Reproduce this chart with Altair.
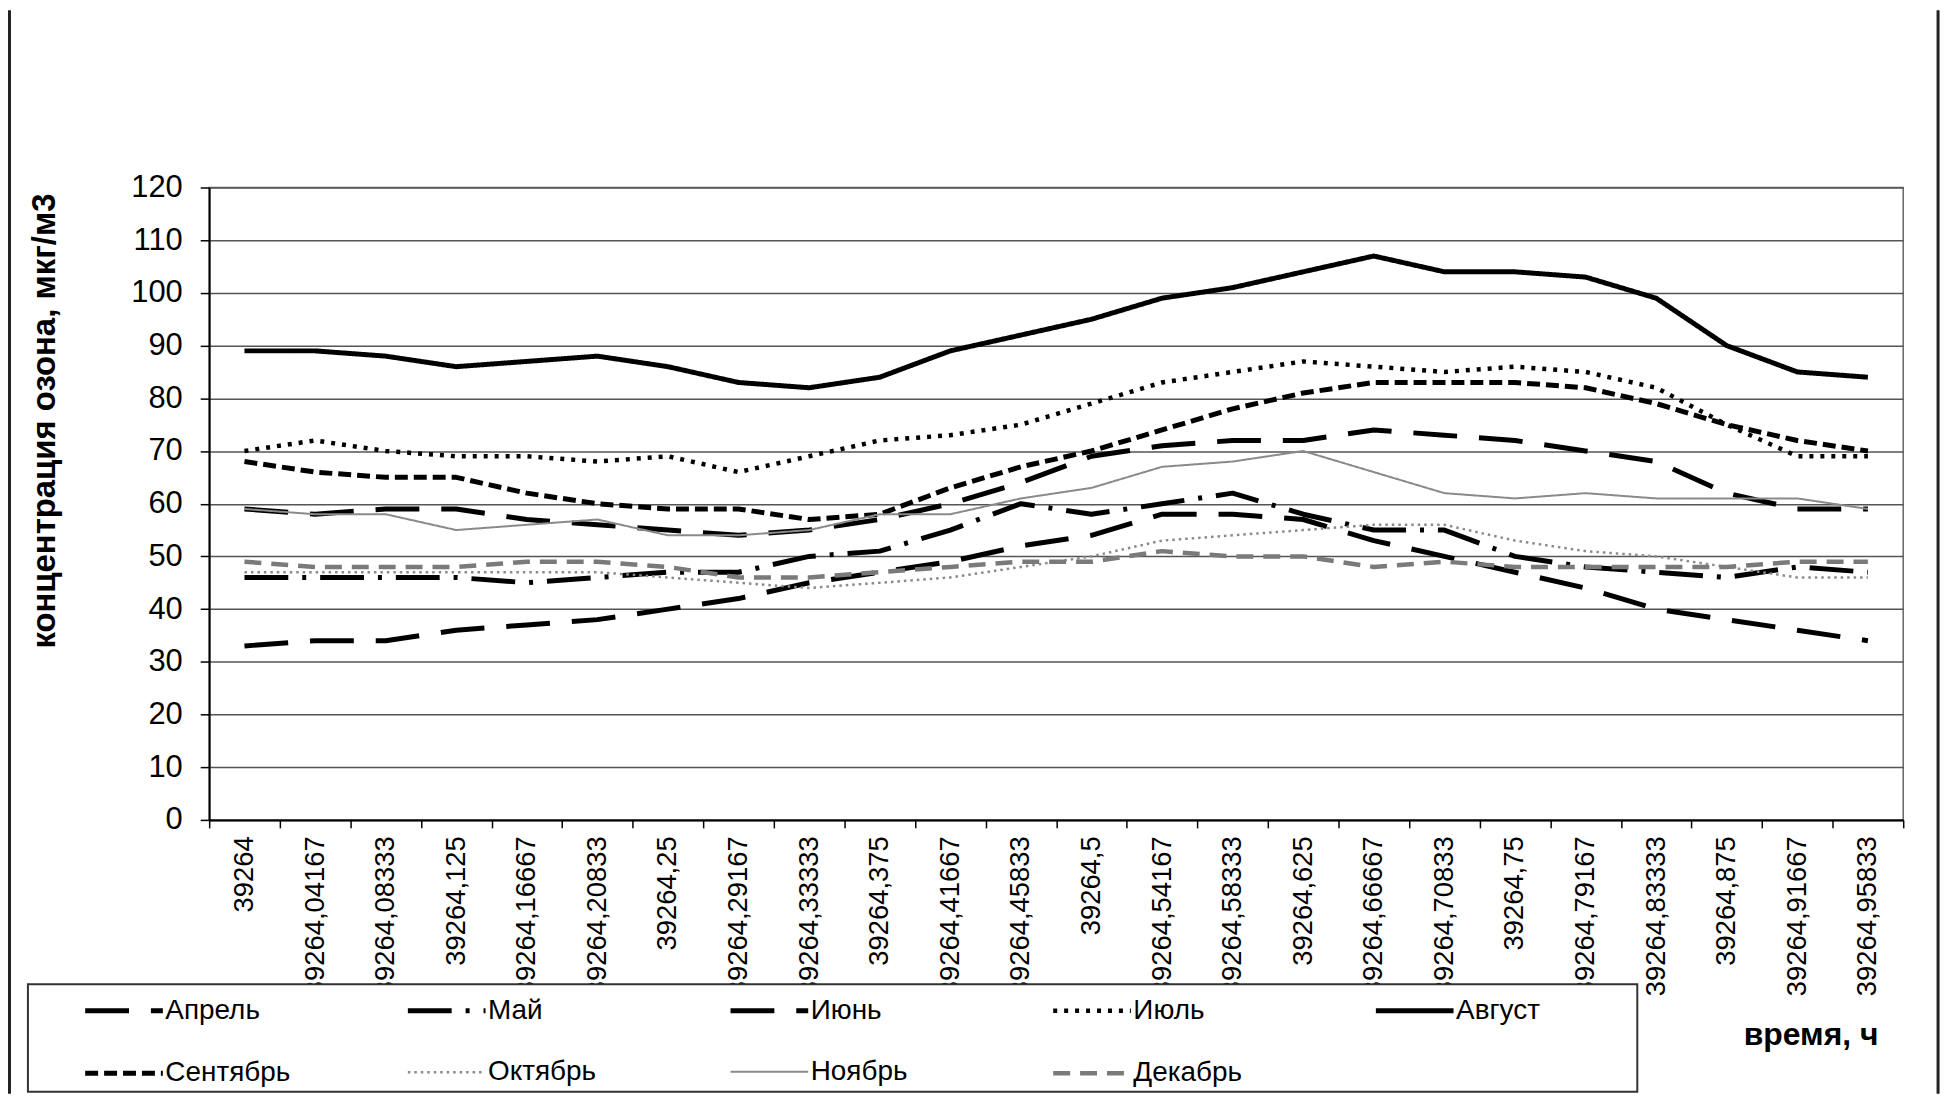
import altair as alt
import pandas as pd

labels = ["39264", "39264,04167", "39264,08333", "39264,125", "39264,16667", "39264,20833",
          "39264,25", "39264,29167", "39264,33333", "39264,375", "39264,41667", "39264,45833",
          "39264,5", "39264,54167", "39264,58333", "39264,625", "39264,66667", "39264,70833",
          "39264,75", "39264,79167", "39264,83333", "39264,875", "39264,91667", "39264,95833"]

months = ["Апрель", "Май", "Июнь", "Июль", "Август", "Сентябрь", "Октябрь", "Ноябрь", "Декабрь"]

apr = [33, 34, 34, 36, 37, 38, 40, 42, 45, 47, 49, 52, 54, 58, 58, 57, 53, 50, 47, 44, 40, 38, 36, 34]
may = [46, 46, 46, 46, 45, 46, 47, 47, 50, 51, 55, 60, 58, 60, 62, 58, 55, 55, 50, 48, 47, 46, 48, 47]
jun = [59, 58, 59, 59, 57, 56, 55, 54, 55, 57, 60, 64, 69, 71, 72, 72, 74, 73, 72, 70, 68, 62, 59, 59]
jul = [70, 72, 70, 69, 69, 68, 69, 66, 69, 72, 73, 75, 79, 83, 85, 87, 86, 85, 86, 85, 82, 75, 69, 69]
aug = [89, 89, 88, 86, 87, 88, 86, 83, 82, 84, 89, 92, 95, 99, 101, 104, 107, 104, 104, 103, 99, 90, 85, 84]
sep = [68, 66, 65, 65, 62, 60, 59, 59, 57, 58, 63, 67, 70, 74, 78, 81, 83, 83, 83, 82, 79, 75, 72, 70]
octo = [47, 47, 47, 47, 47, 47, 46, 45, 44, 45, 46, 48, 50, 53, 54, 55, 56, 56, 53, 51, 50, 48, 46, 46]
nov = [59, 58, 58, 55, 56, 57, 54, 54, 55, 58, 58, 61, 63, 67, 68, 70, 66, 62, 61, 62, 61, 61, 61, 59]
dec = [49, 48, 48, 48, 49, 49, 48, 46, 46, 47, 48, 49, 49, 51, 50, 50, 48, 49, 48, 48, 48, 48, 49, 49]

series = [apr, may, jun, jul, aug, sep, octo, nov, dec]

colors = ["#000000", "#000000", "#000000", "#000000", "#000000", "#000000", "#8a8a8a", "#8a8a8a", "#7a7a7a"]
dashes = [[44, 22], [44, 14, 4, 14], [44, 22], [4, 7], [1, 0], [13, 6], [2.5, 4], [1, 0], [17, 10]]
widths = [5, 5, 5, 4.5, 5, 5, 2.5, 2, 4.5]

rows = []
for m, vals in zip(months, series):
    for t, v in zip(labels, vals):
        rows.append({"t": t, "month": m, "v": v})
df = pd.DataFrame(rows)

FONT = "Liberation Sans"
W, H = 1701, 635
PAD_L, PAD_T = 202, 178

leg = alt.Legend(title=None, orient="none", legendX=-127, legendY=785, direction="horizontal",
                 columns=5, gridAlign="all", columnPadding=107, rowPadding=7,
                 symbolType="stroke", symbolSize=6084, labelFont=FONT, labelFontSize=28,
                 labelColor="#000000", labelOffset=0, padding=0, labelLimit=400)

lines = alt.Chart(df).mark_line(strokeJoin="round").encode(
    x=alt.X("t:N", sort=labels, bandPosition=0.5,
            scale=alt.Scale(type="band", paddingInner=0, paddingOuter=0),
            axis=alt.Axis(title="время, ч", tickBand="extent", grid=False)),
    y=alt.Y("v:Q", scale=alt.Scale(domain=[0, 120]),
            axis=alt.Axis(title="концентрация озона, мкг/м3", values=list(range(0, 121, 10)))),
    color=alt.Color("month:N", scale=alt.Scale(domain=months, range=colors), legend=leg),
    strokeDash=alt.StrokeDash("month:N", scale=alt.Scale(domain=months, range=dashes), legend=leg),
    strokeWidth=alt.StrokeWidth("month:N", scale=alt.Scale(type="ordinal", domain=months, range=widths), legend=leg),
)

deco = pd.DataFrame({"a": [0]})
legend_box = alt.Chart(deco).mark_rect(fill="white", stroke="#333333", strokeWidth=2).encode(
    x=alt.value(28 - 210), x2=alt.value(1644 - 210),
    y=alt.value(986 - 186), y2=alt.value(1094 - 186))
frame_l = alt.Chart(deco).mark_rule(color="#222222", strokeWidth=3).encode(
    x=alt.value(-PAD_L + 1.5), y=alt.value(-PAD_T), y2=alt.value(1088 - PAD_T))
frame_r = alt.Chart(deco).mark_rule(color="#222222", strokeWidth=3).encode(
    x=alt.value(1736), y=alt.value(-PAD_T), y2=alt.value(1088 - PAD_T))

chart = alt.layer(lines, legend_box, frame_l, frame_r).properties(
    width=W, height=H,
    autosize=alt.AutoSizeParams(type="none"),
    padding={"left": PAD_L, "top": PAD_T, "right": 1952 - PAD_L - W, "bottom": 1088 - PAD_T - H},
    background="white",
).configure_view(
    stroke="#666666", strokeWidth=1.5
).configure_axisX(
    domainColor="#000000", domainWidth=2, tickColor="#000000", tickWidth=1.5, tickSize=8,
    labelFont=FONT, labelFontSize=27.5, labelColor="#000000", labelPadding=8,
    labelAngle=270, labelAlign="right", labelBaseline="middle", labelOverlap=False, labelLimit=400,
    titleFont=FONT, titleFontSize=32, titleFontWeight="bold", titleColor="#000000",
    titleX=1608, titleY=226, titleAlign="center", titleBaseline="alphabetic",
).configure_axisY(
    grid=True, gridColor="#555555", gridWidth=1.5,
    domainColor="#000000", domainWidth=2, tickColor="#000000", tickWidth=1.5, tickSize=9,
    labelFont=FONT, labelFontSize=31, labelColor="#000000", labelPadding=18,
    titleFont=FONT, titleFontSize=33, titleFontWeight="bold", titleColor="#000000",
    titleAngle=270, titleX=-165, titleY=234, titleAlign="center", titleBaseline="middle",
)

chart.save("out.html", embed_options={"renderer": "svg", "actions": False})
